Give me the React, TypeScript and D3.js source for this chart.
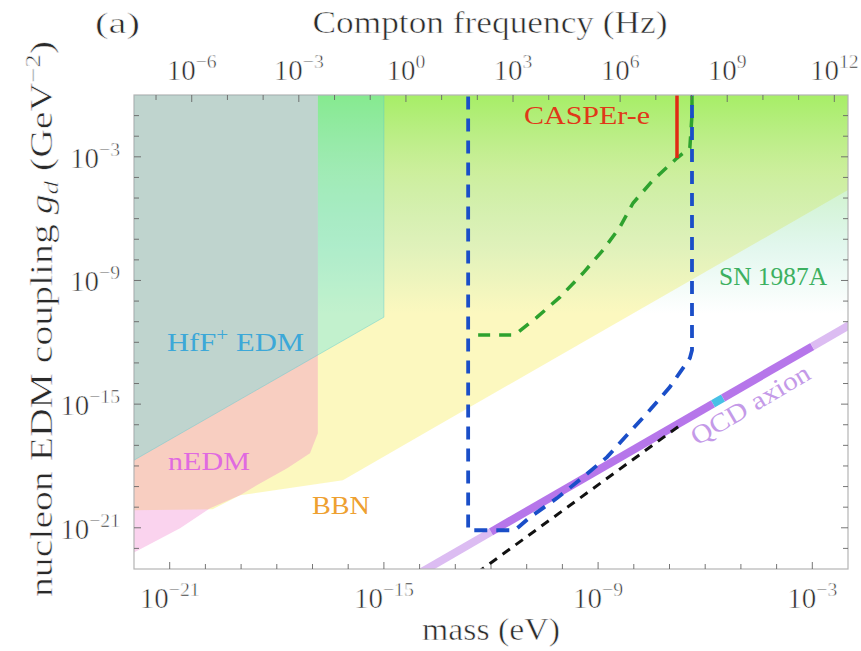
import React from "react";
import * as d3 from "d3";

const W = 861;
const H = 651;
const PLOT = { left: 134, right: 848, top: 95, bottom: 569 };

// axis domains (log10)
const massLogDomain = [-22, -2];
const couplingLogDomain = [-23, 0];
const bottomTickLabels = [-21, -15, -9, -3];
const leftTickLabels = [-3, -9, -15, -21];
const topTickLabels = [-6, -3, 0, 3, 6, 9, 12];
const eVtoHzLog = 14.383; // log10 of Hz per eV

// regions, points are [log10 mass (eV), log10 g_d (GeV^-2)]
const bbnRegion = [
  [-22, 0], [-2, 0], [-2, -4.61], [-13.71, -16.26], [-16.15, -18.69],
  [-19.03, -19.42], [-19.8, -20.1], [-22, -20.15],
];
const snRegion = [[-16.85, 0], [-2, 0], [-2, -10.6], [-16.85, -10.6]];
const nedmRegion = [
  [-22, 0], [-16.85, 0], [-16.85, -16.41], [-17.07, -17.38], [-17.71, -18.11],
  [-18.55, -18.93], [-19.03, -19.42], [-19.87, -20.05], [-20.71, -21.02], [-22, -22.2],
];
const hffRegion = [[-22, 0], [-15, 0], [-15, -10.78], [-22, -17.72]];

// projected / lines
const blueCurve = [
  [-12.64, 1], [-12.64, -21.12], [-11.33, -21.12], [-10.91, -20.49], [-10.15, -19.56],
  [-9.42, -18.54], [-8.75, -17.57], [-8.19, -16.5], [-7.55, -15.29], [-6.99, -14.17],
  [-6.43, -12.77], [-6.37, -12.38], [-6.37, 1],
];
const greenCurve = [
  [-12.36, -11.65], [-11.41, -11.65], [-11.27, -11.55], [-10.71, -10.78], [-10.07, -9.81],
  [-9.42, -8.64], [-8.86, -7.52], [-8.39, -6.41], [-8.02, -5.24], [-7.46, -4.13],
  [-6.79, -3.06], [-6.43, -2.57], [-6.37, -0.97], [-6.37, 1],
];
const caspereLine = [[-6.79, 1], [-6.79, -3.06]];
const blackDashed = [[-12.4, -23.2], [-6.62, -15.92]];
const qcdSegments = [
  { from: [-14, -23.2], to: [-12, -21.2], color: "#dcbcf2" },
  { from: [-12, -21.2], to: [-5.78, -14.98], color: "#b676ea" },
  { from: [-5.78, -14.98], to: [-5.5, -14.7], color: "#48c0e6" },
  { from: [-5.5, -14.7], to: [-3, -12.2], color: "#b676ea" },
  { from: [-3, -12.2], to: [-1.8, -11.0], color: "#dcbcf2" },
];

const FONT = "'Liberation Serif', 'Times New Roman', serif";
const INK = "#2a2a2a";
const thin = { stroke: "#fff", strokeWidth: 0.55 };

function Pow10({ x, y, exp, anchor, size = 29 }) {
  const e = exp < 0 ? "\u2212" + Math.abs(exp) : String(exp);
  return (
    <text x={x} y={y} textAnchor={anchor} fontFamily={FONT} fontSize={size} fill={INK} {...thin}>
      <tspan>10</tspan>
      <tspan dy={-12} fontSize={size * 0.68}>{e}</tspan>
    </text>
  );
}

export default function App() {
  const x = d3.scaleLog().domain(massLogDomain.map((v) => 10 ** v)).range([PLOT.left, PLOT.right]);
  const y = d3.scaleLog().domain(couplingLogDomain.map((v) => 10 ** v)).range([PLOT.bottom, PLOT.top]);
  const px = (p) => x(10 ** p[0]);
  const py = (p) => y(10 ** p[1]);
  const line = d3.line().x(px).y(py);
  const poly = (pts) => line(pts) + "Z";

  const massTicks = d3.range(massLogDomain[0] + 1, massLogDomain[1]);
  const gTicks = d3.range(couplingLogDomain[0] + 1, couplingLogDomain[1]);
  const hzTicks = d3.range(-7, 13);

  const pw = PLOT.right - PLOT.left;
  const ph = PLOT.bottom - PLOT.top;

  return (
    <svg width={W} height={H} style={{ display: "block", position: "absolute", left: 0, top: 0 }}>
      <defs>
        <clipPath id="plotClip">
          <rect x={PLOT.left} y={PLOT.top} width={pw} height={ph} />
        </clipPath>
        <linearGradient id="snGrad" x1="0" y1="0" x2="0" y2="1">
          <stop offset="0" stopColor="#82ea40" stopOpacity={0.7} />
          <stop offset="0.35" stopColor="#8ae26c" stopOpacity={0.42} />
          <stop offset="0.7" stopColor="#70d8a8" stopOpacity={0.2} />
          <stop offset="1" stopColor="#6cd8b0" stopOpacity={0} />
        </linearGradient>
      </defs>
      <rect x={0} y={0} width={W} height={H} fill="#fff" />

      <g clipPath="url(#plotClip)">
        <path d={poly(bbnRegion)} fill="#f8f070" fillOpacity={0.45} />
        <path d={poly(snRegion)} fill="url(#snGrad)" />
        <path d={poly(nedmRegion)} fill="#f06ec8" fillOpacity={0.3} />
        <path d={poly(hffRegion)} fill="#3ce2f0" fillOpacity={0.3} stroke="#58c8d0" strokeOpacity={0.4} strokeWidth={1} />

        {qcdSegments.map((s, i) => (
          <line key={i} x1={px(s.from)} y1={py(s.from)} x2={px(s.to)} y2={py(s.to)}
            stroke={s.color} strokeWidth={8} />
        ))}
        <path d={line(blackDashed)} fill="none" stroke="#111" strokeWidth={3} strokeDasharray="9 7" />
        <path d={line(greenCurve)} fill="none" stroke="#2ea22e" strokeWidth={3.5} strokeDasharray="12 9" />
        <path d={line(caspereLine)} fill="none" stroke="#e02a14" strokeWidth={3.5} />
        <path d={line(blueCurve)} fill="none" stroke="#1a4ec8" strokeWidth={3.8} strokeDasharray="13 9" />
      </g>

      {/* frame */}
      <rect x={PLOT.left} y={PLOT.top} width={pw} height={ph} fill="none" stroke="#b4b4b4" strokeWidth={1.2} />
      {massTicks.map((k) => {
        const len = bottomTickLabels.includes(k) ? 7 : 5;
        return <line key={"b" + k} x1={x(10 ** k)} x2={x(10 ** k)} y1={PLOT.bottom} y2={PLOT.bottom - len} stroke="#666" strokeWidth={0.9} />;
      })}
      {hzTicks.map((k) => {
        const xx = x(10 ** (k - eVtoHzLog));
        if (xx < PLOT.left || xx > PLOT.right) return null;
        const len = topTickLabels.includes(k) ? 7 : 5;
        return <line key={"t" + k} x1={xx} x2={xx} y1={PLOT.top} y2={PLOT.top + len} stroke="#666" strokeWidth={0.9} />;
      })}
      {gTicks.map((k) => {
        const len = leftTickLabels.includes(k) ? 7 : 5;
        return (
          <g key={"l" + k}>
            <line x1={PLOT.left} x2={PLOT.left + len} y1={y(10 ** k)} y2={y(10 ** k)} stroke="#666" strokeWidth={0.9} />
            <line x1={PLOT.right} x2={PLOT.right - len} y1={y(10 ** k)} y2={y(10 ** k)} stroke="#666" strokeWidth={0.9} />
          </g>
        );
      })}

      {/* tick labels */}
      {bottomTickLabels.map((k) => (
        <Pow10 key={"bl" + k} x={x(10 ** k)} y={608} exp={k} anchor="middle" />
      ))}
      {leftTickLabels.map((k) => (
        <Pow10 key={"ll" + k} x={120} y={y(10 ** k) + 11} exp={k} anchor="end" />
      ))}
      {topTickLabels.map((k) => (
        <Pow10 key={"tl" + k} x={x(10 ** (k - eVtoHzLog))} y={80} exp={k} anchor="middle" />
      ))}

      {/* titles */}
      <text x={95} y={33} fontFamily={FONT} fontSize={30} fill={INK} {...thin} textLength={45} lengthAdjust="spacingAndGlyphs">(a)</text>
      <text x={490} y={33} textAnchor="middle" fontFamily={FONT} fontSize={31} fill={INK} {...thin} textLength={355} lengthAdjust="spacingAndGlyphs">Compton frequency (Hz)</text>
      <text x={491} y={640} textAnchor="middle" fontFamily={FONT} fontSize={31} fill={INK} {...thin} textLength={138} lengthAdjust="spacingAndGlyphs">mass (eV)</text>
      <text transform="translate(52,319) rotate(-90)" textAnchor="middle" fontFamily={FONT} fontSize={31} fill={INK} {...thin} textLength={556} lengthAdjust="spacingAndGlyphs">
        <tspan>nucleon EDM coupling </tspan>
        <tspan fontStyle="italic">g</tspan>
        <tspan fontStyle="italic" fontSize={21} dy={6}>d</tspan>
        <tspan dy={-6}> (GeV</tspan>
        <tspan fontSize={21} dy={-12}>{"\u22122"}</tspan>
        <tspan dy={12}>)</tspan>
      </text>

      {/* region labels */}
      <text x={167} y={351} fontFamily={FONT} fontSize={26} fill="#3ca8d8" textLength={137} lengthAdjust="spacingAndGlyphs">
        HfF<tspan fontSize={18} dy={-10}>+</tspan><tspan dy={10}> EDM</tspan>
      </text>
      <text x={168} y={470} fontFamily={FONT} fontSize={26} fill="#e06ae0" textLength={82} lengthAdjust="spacingAndGlyphs">nEDM</text>
      <text x={312} y={514} fontFamily={FONT} fontSize={26} fill="#eea030" textLength={58} lengthAdjust="spacingAndGlyphs">BBN</text>
      <text x={719} y={285} fontFamily={FONT} fontSize={26} fill="#3cb060" textLength={108} lengthAdjust="spacingAndGlyphs">SN 1987A</text>
      <text x={524} y={124} fontFamily={FONT} fontSize={26} fill="#e03818" textLength={126} lengthAdjust="spacingAndGlyphs">CASPEr-e</text>
      <text transform="translate(697,446) rotate(-30.5)" fontFamily={FONT} fontSize={26} fill="#c49ae8" textLength={134} lengthAdjust="spacingAndGlyphs">QCD axion</text>
    </svg>
  );
}
